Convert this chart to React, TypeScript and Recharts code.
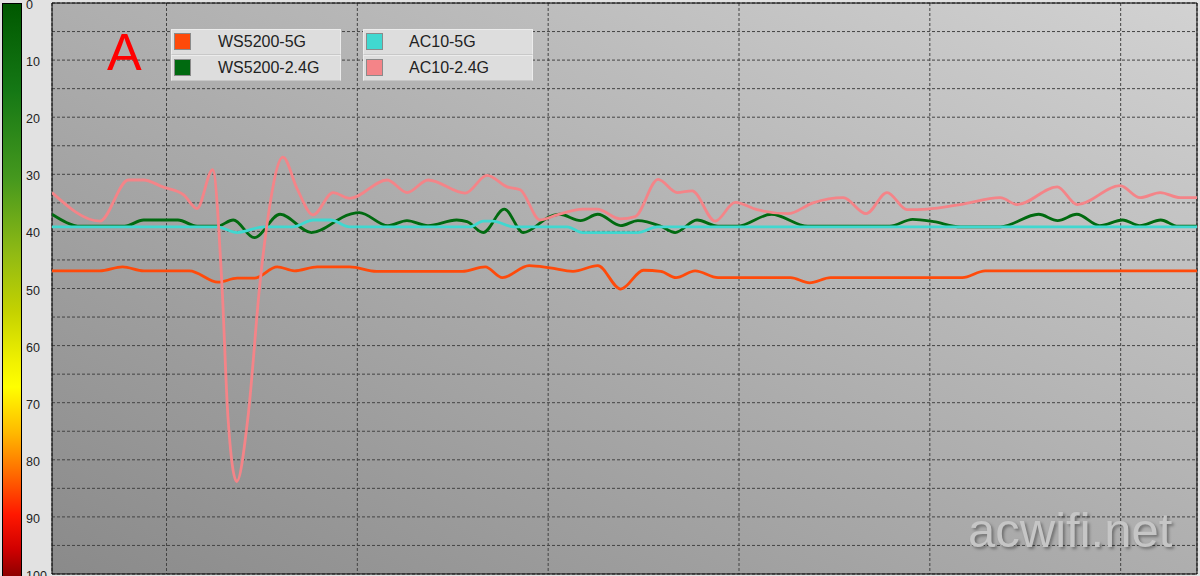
import React from 'react';
import { LineChart, Line, XAxis, YAxis, CartesianGrid, ReferenceArea } from 'recharts';

// time (s) and signal value for each series
const ws5gT = [0, 2.5, 3.7, 4.8, 7.2, 8.7, 9.7, 10.6, 11.8, 12.7, 13.9, 15.6, 17.0, 21.5, 22.7, 23.6, 25.0, 26.1, 27.3, 28.6, 29.8, 31.0, 31.9, 32.7, 33.7, 34.9, 38.7, 39.7, 40.8, 47.7, 48.9, 60];
const ws5gV = [46.9, 46.9, 46.2, 46.9, 46.9, 48.9, 48.2, 48.2, 46.2, 46.9, 46.2, 46.2, 47.0, 47.0, 46.2, 48.1, 46.0, 46.4, 47.0, 46.0, 50.1, 46.8, 47.0, 48.1, 46.9, 48.1, 48.1, 49.0, 48.1, 48.1, 46.9, 46.9];

const ws24T = [0, 1.5, 3.8, 4.8, 6.6, 7.6, 8.65, 9.5, 10.6, 11.95, 13.6, 15.6, 16.1, 17.6, 18.6, 19.7, 21.2, 21.75, 22.6, 23.7, 24.7, 26.1, 26.6, 27.7, 28.6, 29.8, 30.7, 31.9, 32.65, 33.8, 34.9, 35.9, 37.7, 39.6, 43.9, 45.1, 46.2, 47.6, 49.7, 51.7, 52.7, 53.7, 54.9, 56.1, 57.0, 58.1, 59.0, 60];
const ws24V = [37.0, 39.1, 39.1, 38.0, 38.0, 39.1, 39.1, 38.0, 41.1, 37.0, 40.2, 37.0, 36.7, 39.0, 38.1, 39.0, 38.0, 38.3, 40.2, 36.1, 40.2, 37.4, 37.0, 38.1, 37.0, 39.0, 38.1, 39.1, 40.2, 38.0, 39.1, 39.1, 37.0, 39.1, 39.1, 37.9, 38.3, 39.2, 39.2, 37.0, 38.1, 37.0, 39.0, 38.0, 39.0, 38.0, 39.1, 39.1];

const ac5gT = [0, 8.65, 9.7, 11.1, 12.6, 13.7, 14.6, 15.6, 21.9, 22.6, 23.1, 24.2, 27.0, 27.8, 30.7, 31.7, 60];
const ac5gV = [39.2, 39.2, 40.2, 39.2, 39.2, 38.0, 38.0, 39.2, 39.2, 38.2, 38.2, 39.2, 39.2, 40.2, 40.2, 39.2, 39.2];

const ac24T = [0, 2.5, 4.0, 4.8, 5.8, 6.9, 7.6, 8.42, 8.9, 9.22, 9.68, 10.27, 10.9, 11.32, 12.1, 12.84, 13.68, 14.73, 15.6, 17.56, 18.61, 19.71, 21.65, 22.8, 23.85, 24.53, 25.58, 26.47, 27.83, 28.56, 29.77, 30.56, 31.76, 32.76, 33.54, 34.75, 35.8, 36.95, 38.57, 39.88, 41.46, 42.66, 43.76, 44.81, 45.86, 47.59, 49.69, 50.58, 52.67, 53.72, 55.97, 57.02, 58.07, 59.12, 60];
const ac24V = [33.2, 38.2, 31.0, 31.0, 32.2, 33.6, 36.0, 29.2, 49.0, 72.5, 83.8, 72.5, 49.0, 37.5, 27.0, 32.5, 37.1, 33.2, 34.2, 31.0, 33.2, 31.0, 33.3, 30.2, 32.2, 32.7, 38.0, 37.1, 36.1, 36.1, 37.8, 37.4, 30.9, 33.2, 32.9, 38.2, 34.9, 36.2, 36.9, 35.0, 34.1, 36.9, 33.2, 36.2, 36.1, 35.3, 34.1, 35.3, 32.2, 35.3, 32.0, 34.1, 33.2, 34.1, 34.1];

const yTicks = [0, 5, 10, 15, 20, 25, 30, 35, 40, 45, 50, 55, 60, 65, 70, 75, 80, 85, 90, 95, 100];
const xTicks = [6, 16, 26, 36, 46, 56];

const series = [
  { name: 'WS5200-5G', color: '#ff4a0a', t: ws5gT, v: ws5gV },
  { name: 'WS5200-2.4G', color: '#006a10', t: ws24T, v: ws24V },
  { name: 'AC10-5G', color: '#40d8d0', t: ac5gT, v: ac5gV },
  { name: 'AC10-2.4G', color: '#f48488', t: ac24T, v: ac24V },
];

const font = '"Liberation Sans", Arial, sans-serif';

const YTick = (props: any) => {
  const { y, payload } = props;
  if (payload.value % 10 !== 0) return <g />;
  return (
    <text x={26} y={y} dy={6} fontSize={12.5} fill="#222" fontFamily={font}>
      {payload.value}
    </text>
  );
};

const EmptyTick = () => <g />;

function LegendBox({ items, left }: { items: typeof series; left: number }) {
  return (
    <div style={{ position: 'absolute', left, top: 29, width: 170 }}>
      {items.map((s) => (
        <div
          key={s.name}
          style={{
            position: 'relative',
            height: 24,
            background: '#dddddd',
            border: '1px solid #ececec',
            borderBottomColor: '#c8c8c8',
          }}
        >
          <div
            style={{
              position: 'absolute',
              left: 2,
              top: 3,
              width: 15,
              height: 15,
              background: s.color,
              border: '1px solid #8a8a8a',
            }}
          />
          <div
            style={{
              position: 'absolute',
              left: s.name.startsWith('WS') ? 46 : 45,
              top: 3,
              fontFamily: font,
              fontSize: 16,
              lineHeight: '18px',
              color: '#222',
            }}
          >
            {s.name}
          </div>
        </div>
      ))}
    </div>
  );
}

export default function App() {
  return (
    <div style={{ position: 'absolute', left: 0, top: 0, width: 1200, height: 576, background: '#e2e2e2', overflow: 'hidden' }}>
      {/* colour scale on the left */}
      <div
        style={{
          position: 'absolute',
          left: 2,
          top: 3,
          width: 18,
          height: 580,
          borderLeft: '1px solid #000',
          borderRight: '1px solid #000',
          borderTop: '1px solid #000',
          background:
            'linear-gradient(to bottom, #005800 0%, #157815 15%, #45981e 30%, #90ba14 43%, #c4d200 53%, #f2f200 62%, #ffff00 66%, #ffb800 74%, #ff6a00 81%, #ff1800 88%, #d00000 94%, #7a0000 100%)',
        }}
      />
      <LineChart width={1200} height={576} margin={{ top: 3, right: 3, bottom: 0, left: 0 }} style={{ position: 'absolute', left: 0, top: 0 }}>
        <defs>
          <linearGradient id="plotBg" x1="0" y1="1" x2="1" y2="0">
            <stop offset="0%" stopColor="#8a8a8a" />
            <stop offset="100%" stopColor="#d2d2d2" />
          </linearGradient>
        </defs>
        <CartesianGrid fill="url(#plotBg)" fillOpacity={1} stroke="#444" strokeDasharray="3 2" />
        <XAxis
          type="number"
          dataKey="t"
          domain={[0, 60]}
          ticks={xTicks}
          interval={0}
          tick={<EmptyTick />}
          tickLine={false}
          axisLine={false}
          height={2}
          allowDataOverflow
        />
        <YAxis
          type="number"
          domain={[0, 100]}
          reversed
          ticks={yTicks}
          interval={0}
          width={52}
          tick={<YTick />}
          tickLine={false}
          axisLine={false}
          allowDataOverflow
        />
        {series.map((s) => (
          <Line
            key={s.name}
            data={s.t.map((t, i) => ({ t, v: s.v[i] }))}
            dataKey="v"
            type="monotone"
            stroke={s.color}
            strokeWidth={2.8}
            dot={false}
            isAnimationActive={false}
          />
        ))}
        <ReferenceArea x1={0} x2={60} y1={0} y2={100} fill="none" stroke="#000" strokeWidth={1} ifOverflow="visible" />
      </LineChart>
      <div style={{ position: 'absolute', left: 107, top: 26, fontFamily: font, fontSize: 52, lineHeight: '52px', color: '#ff0000' }}>A</div>
      <LegendBox items={series.slice(0, 2)} left={171} />
      <LegendBox items={series.slice(2)} left={363} />
      <div
        style={{
          position: 'absolute',
          left: 968,
          top: 502,
          fontFamily: font,
          fontSize: 49,
          lineHeight: '56px',
          color: '#c6c6c6',
          textShadow: '2px 2px 3px rgba(0,0,0,0.35)',
        }}
      >
        acwifi.net
      </div>
    </div>
  );
}
